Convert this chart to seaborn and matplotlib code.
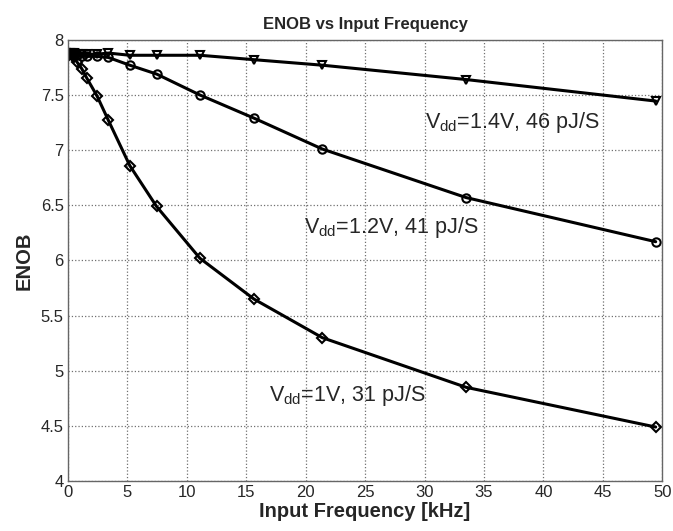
import numpy as np
import pandas as pd
import seaborn as sns
import matplotlib
matplotlib.use("Agg")
import matplotlib.pyplot as plt

# input frequency in kHz (same sweep for all supplies)
freq_khz = [0.1, 0.2, 0.35, 0.5, 0.75, 1.15, 1.6, 2.45, 3.4, 5.2, 7.45,
            11.1, 15.65, 21.4, 33.5, 49.45]

enob_1v0 = [7.86, 7.87, 7.86, 7.84, 7.80, 7.74, 7.65, 7.49, 7.27, 6.86, 6.49,
            6.02, 5.65, 5.30, 4.85, 4.49]
enob_1v2 = [7.88, 7.88, 7.87, 7.87, 7.86, 7.85, 7.85, 7.85, 7.84, 7.77, 7.69,
            7.50, 7.29, 7.01, 6.57, 6.17]
enob_1v4 = [7.88, 7.88, 7.88, 7.88, 7.87, 7.87, 7.87, 7.87, 7.88, 7.86, 7.86,
            7.86, 7.82, 7.77, 7.64, 7.445]

series_names = ["1V", "1.2V", "1.4V"]
series_markers = {"1V": "D", "1.2V": "o", "1.4V": "v"}

labels = ["V$_{\\mathregular{dd}}$=1.4V, 46 pJ/S",
          "V$_{\\mathregular{dd}}$=1.2V, 41 pJ/S",
          "V$_{\\mathregular{dd}}$=1V, 31 pJ/S"]
label_pos = [(30.0, 7.25), (19.9, 6.30), (16.9, 4.78)]

df = pd.DataFrame({
    "freq": freq_khz * 3,
    "enob": enob_1v0 + enob_1v2 + enob_1v4,
    "vdd": [n for n in series_names for _ in freq_khz],
})

sns.set_style("white")
plt.rcParams["font.family"] = ["Liberation Sans", "DejaVu Sans"]
plt.rcParams["mathtext.fontset"] = "custom"
plt.rcParams["mathtext.rm"] = "Liberation Sans"

fig, ax = plt.subplots(figsize=(6.73, 5.31), dpi=100)
fig.subplots_adjust(left=0.101, right=0.984, top=0.925, bottom=0.094)

for name in series_names:
    sub = df[df["vdd"] == name]
    ms = 5 if series_markers[name] == "D" else 6
    sns.lineplot(data=sub, x="freq", y="enob", ax=ax, color="black",
                 linewidth=2.2, marker=series_markers[name], markersize=ms,
                 markerfacecolor="none", markeredgecolor="black",
                 markeredgewidth=1.5, legend=False)

for txt, (x, y) in zip(labels, label_pos):
    ax.text(x, y, txt, fontsize=15.5, va="center", ha="left")

ax.set_xlim(0, 50)
ax.set_ylim(4, 8)
ax.set_xticks(np.arange(0, 51, 5))
ax.set_yticks(np.arange(4, 8.01, 0.5))
ax.set_yticklabels(["4", "4.5", "5", "5.5", "6", "6.5", "7", "7.5", "8"])
ax.grid(True, linestyle=":", color="#707070", linewidth=0.9)
ax.tick_params(axis="both", labelsize=12, direction="in", length=4,
               color="#555555", pad=3)
for sp in ax.spines.values():
    sp.set_color("#666666")
    sp.set_linewidth(1.0)

ax.set_title("ENOB vs Input Frequency", fontsize=12, fontweight="bold", pad=8)
ax.set_xlabel("Input Frequency [kHz]", fontsize=14.5, fontweight="bold",
              labelpad=1)
ax.set_ylabel("ENOB", fontsize=14.5, fontweight="bold", labelpad=5)

fig.savefig("out.png", dpi=100)
